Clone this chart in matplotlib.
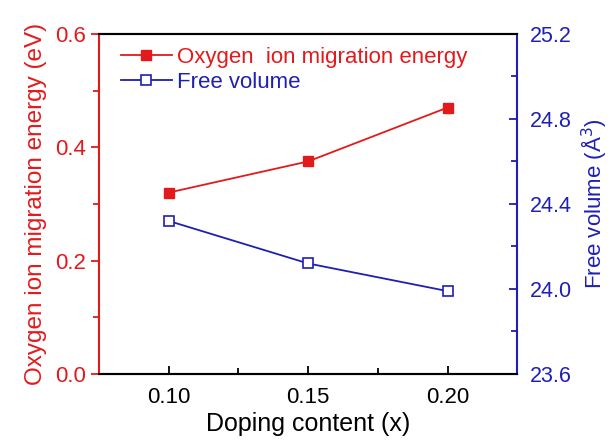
import matplotlib

matplotlib.use("Agg")

import matplotlib.pyplot as plt
from matplotlib.ticker import MultipleLocator

plt.rcParams["font.family"] = ["Liberation Sans", "DejaVu Sans"]

doping = [0.10, 0.15, 0.20]
migration_energy = [0.32, 0.375, 0.47]
free_volume = [24.32, 24.12, 23.99]

RED = "#e31a1c"
BLUE = "#1f1fb4"

fig, ax = plt.subplots(figsize=(6.15, 4.4), dpi=100)
fig.subplots_adjust(left=0.161, right=0.841, top=0.923, bottom=0.15)
ax2 = ax.twinx()

(l1,) = ax.plot(doping, migration_energy, color=RED, lw=1.3, marker="s",
                ms=6.5, mfc=RED, mec=RED, label="Oxygen  ion migration energy")
(l2,) = ax2.plot(doping, free_volume, color=BLUE, lw=1.3, marker="s",
                 ms=6.5, mfc="white", mec=BLUE, mew=1.2, label="Free volume")

ax.set_xlim(0.075, 0.225)
ax.set_ylim(0.0, 0.6)
ax2.set_ylim(23.6, 25.2)

ax.xaxis.set_major_locator(MultipleLocator(0.05))
ax.xaxis.set_minor_locator(MultipleLocator(0.025))
ax.yaxis.set_major_locator(MultipleLocator(0.2))
ax.yaxis.set_minor_locator(MultipleLocator(0.1))
ax2.yaxis.set_major_locator(MultipleLocator(0.4))
ax2.yaxis.set_minor_locator(MultipleLocator(0.2))
ax.xaxis.set_major_formatter(lambda v, p: f"{v:.2f}")
ax.yaxis.set_major_formatter(lambda v, p: f"{v:.1f}")
ax2.yaxis.set_major_formatter(lambda v, p: f"{v:.1f}")

for a in (ax, ax2):
    for s in a.spines.values():
        s.set_linewidth(1.5)
ax.spines["left"].set_color(RED)
ax2.spines["left"].set_visible(False)
ax2.spines["right"].set_color(BLUE)
ax.spines["right"].set_visible(False)

ax.tick_params(axis="x", which="both", direction="in", labelsize=16,
               width=1.3, pad=9)
ax.tick_params(axis="x", which="major", length=6)
ax.tick_params(axis="x", which="minor", length=4)
ax.tick_params(axis="y", which="both", direction="out", colors=RED,
               labelsize=16, width=1.3)
ax.tick_params(axis="y", which="major", length=6)
ax.tick_params(axis="y", which="minor", length=4)
ax2.tick_params(axis="y", which="both", direction="in", colors=BLUE,
                labelsize=15.5, width=1.3, pad=9)
ax2.tick_params(axis="y", which="major", length=6)
ax2.tick_params(axis="y", which="minor", length=4)

ax.set_xlabel("Doping content (x)", fontsize=18, labelpad=3)
ax.set_ylabel("Oxygen ion migration energy (eV)", fontsize=17.5, color=RED,
              labelpad=6)
ax2.set_ylabel("Free volume (Å$^3$)", fontsize=16, color=BLUE, labelpad=5)

leg = ax.legend(handles=[l1, l2], loc="upper left", frameon=False,
                fontsize=16, handlelength=2.3, handletextpad=0.25,
                borderaxespad=0.2, labelspacing=0.15,
                bbox_to_anchor=(0.02, 1.0))
for txt, c in zip(leg.get_texts(), (RED, BLUE)):
    txt.set_color(c)

fig.savefig("out.png", dpi=100)
